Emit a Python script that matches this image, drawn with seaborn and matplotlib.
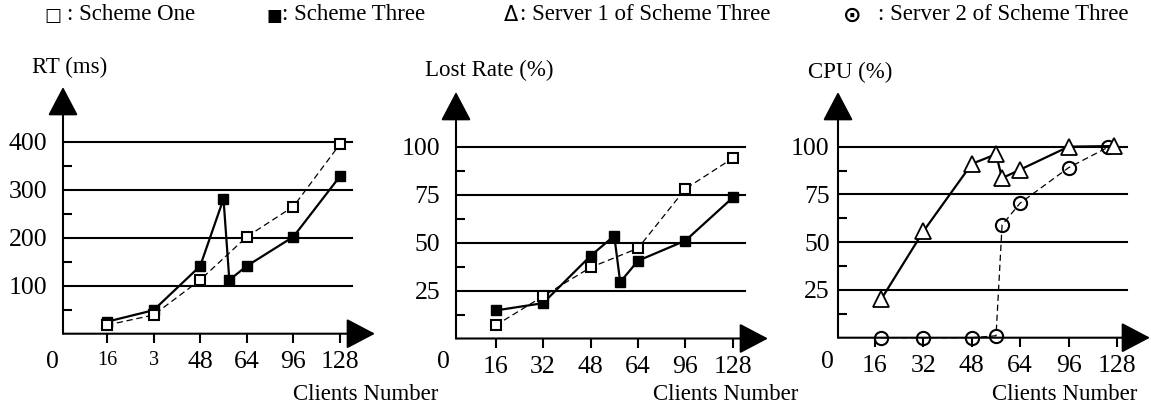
import numpy as np
import matplotlib
matplotlib.use("Agg")
import matplotlib.pyplot as plt
from matplotlib.ticker import NullLocator
import seaborn as sns

# ---------------- data ----------------
clients_rt_one = [16, 32, 48, 64, 96, 128]
rt_one = [18, 39, 112, 202, 265, 395]
clients_rt_three = [16, 32, 48, 56, 58, 64, 96, 128]
rt_three = [25, 49, 141, 281, 112, 141, 202, 328]

clients_lost_one = [16, 32, 48, 64, 96, 128]
lost_one = [6.8, 22, 37, 47, 78, 94]
clients_lost_three = [16, 32, 48, 56, 58, 64, 96, 128]
lost_three = [14.6, 18.4, 43, 53.5, 29.4, 40.5, 51, 73.5]

clients_cpu_s1 = [18, 32, 48, 56, 58, 64, 96, 126]
cpu_s1 = [20, 55.7, 91, 96, 83.5, 88, 100, 100.3]
clients_cpu_s2 = [18, 32, 48, 56, 58, 64, 96, 122]
cpu_s2 = [0, 0, 0, 1, 59, 70.5, 89, 99.7]

x_ticks = [16, 32, 48, 64, 96, 128]
x_labels_rt = ["16", "3", "48", "64", "96", "128"]
x_labels = ["16", "32", "48", "64", "96", "128"]
rt_grid = [100, 200, 300, 400]
pct_grid = [25, 50, 75, 100]

legend_items = ["Scheme One", "Scheme Three", "Server 1 of Scheme Three",
                "Server 2 of Scheme Three"]
titles = ["RT (ms)", "Lost Rate (%)", "CPU (%)"]
xlabel = "Clients Number"

# ---------------- style ----------------
plt.rcParams["font.family"] = ["Liberation Serif", "DejaVu Serif"]
plt.rcParams["axes.unicode_minus"] = False

W, H = 1151, 409
DPI = 100
fig = plt.figure(figsize=(W / DPI, H / DPI), dpi=DPI)
fig.patch.set_facecolor("white")

# evenly spaced category slots for the client counts
BREAKS = [-16, 0, 16, 32, 48, 64, 96, 128, 160]
SLOTS = [-1, 0, 1, 2, 3, 4, 5, 6, 7]


def fwd(x):
    return np.interp(x, BREAKS, SLOTS)


def inv(p):
    return np.interp(p, SLOTS, BREAKS)


def fx(px):
    return px / W


def fy(py):
    return 1 - py / H


def make_axes(L, R, T, B):
    return fig.add_axes([L / W, 1 - B / H, (R - L) / W, (B - T) / H])


LW_AX = 1.5
TICK_FS = 18.5


def decorate(ax, p0, p1, ytop, grid, minor, xt_labels, ypad):
    ax.set_xscale("function", functions=(fwd, inv))
    ax.set_xlim(inv(p0), inv(p1))
    ax.set_ylim(0, ytop)
    for s in ax.spines.values():
        s.set_visible(False)
    ax.set_facecolor("none")
    ax.set_xlabel("")
    ax.set_ylabel("")
    # axes arrows
    kw = dict(arrowstyle="-|>,head_length=0.95,head_width=0.5", lw=LW_AX,
              color="black", shrinkA=0, shrinkB=0, mutation_scale=19)
    ax.annotate("", xy=(1, 0), xytext=(0, 0), xycoords="axes fraction",
                arrowprops=kw, annotation_clip=False)
    ax.annotate("", xy=(0, 1), xytext=(0, 0), xycoords="axes fraction",
                arrowprops=kw, annotation_clip=False)
    for g in grid:
        ax.axhline(g, xmin=0, xmax=0.925, color="black", lw=LW_AX, zorder=1)
    ax.set_yticks(grid)
    ax.set_yticklabels([str(g) for g in grid])
    ax.set_yticks(minor, minor=True)
    ax.tick_params(axis="y", which="major", length=0, pad=ypad,
                   labelsize=TICK_FS)
    ax.tick_params(axis="y", which="minor", direction="in", length=6.5,
                   width=LW_AX)
    ax.set_xticks(x_ticks)
    ax.set_xticklabels(xt_labels)
    ax.xaxis.set_minor_locator(NullLocator())
    ax.tick_params(axis="x", which="major", direction="out", length=6.5,
                   width=LW_AX, pad=6, labelsize=TICK_FS)


sq_one = dict(color="black", marker="s", markersize=7, markerfacecolor="white",
              markeredgecolor="black", markeredgewidth=1.5, linestyle=(0, (5, 3)),
              linewidth=0.9, legend=False, sort=False)
sq_three = dict(color="black", marker="s", markersize=7.5, markerfacecolor="black",
                markeredgecolor="black", markeredgewidth=1.0, linestyle="-",
                linewidth=1.6, legend=False, sort=False)

# ---------------- panel 1: RT ----------------
ax1 = make_axes(63, 375, 87, 333.7)
sns.lineplot(x=clients_rt_three, y=rt_three, ax=ax1, zorder=3, clip_on=False, **sq_three)
sns.lineplot(x=clients_rt_one, y=rt_one, ax=ax1, zorder=4, clip_on=False, **sq_one)
decorate(ax1, 0.056, 6.751, 514, rt_grid, [50, 150, 250, 350], x_labels_rt, 11.5)
for lab in ax1.get_xticklabels()[:2]:
    lab.set_fontsize(14.5)

# ---------------- panel 2: Lost rate ----------------
ax2 = make_axes(456, 768, 92, 338.5)
sns.lineplot(x=clients_lost_three, y=lost_three, ax=ax2, zorder=3, clip_on=False, **sq_three)
sns.lineplot(x=clients_lost_one, y=lost_one, ax=ax2, zorder=4, clip_on=False, **sq_one)
decorate(ax2, 0.168, 6.737, 128.4, pct_grid, [12.5, 37.5, 62.5, 87.5], x_labels, 11.5)

# ---------------- panel 3: CPU ----------------
ax3 = make_axes(838, 1150, 92, 337.7)
sns.lineplot(x=clients_cpu_s2, y=cpu_s2, ax=ax3, color="black", marker="o",
             markersize=9.5, markerfacecolor="none", markeredgecolor="black",
             markeredgewidth=1.5, linestyle=(0, (5, 3)), linewidth=0.9,
             legend=False, sort=False, zorder=3, clip_on=False)
sns.lineplot(x=clients_cpu_s1, y=cpu_s1, ax=ax3, color="black", marker="^",
             markersize=11.5, markerfacecolor="white", markeredgecolor="black",
             markeredgewidth=1.3, linestyle="-", linewidth=1.6,
             legend=False, sort=False, zorder=4, clip_on=False)
decorate(ax3, 0.236, 6.68, 128.6, pct_grid, [12.5, 37.5, 62.5, 87.5], x_labels, 6)

# ---------------- texts ----------------
TXT_FS = 16.5
for x0, t, yc in [(32, titles[0], 67), (425, titles[1], 70), (808, titles[2], 72)]:
    fig.text(fx(x0), fy(yc), t, ha="left", va="center", fontsize=TXT_FS)
for x0 in (293, 653, 992):
    fig.text(fx(x0), fy(394), xlabel, ha="left", va="center", fontsize=TXT_FS)
for xc in (52, 443, 827):
    fig.text(fx(xc), fy(362), "0", ha="center", va="center", fontsize=TICK_FS)

# legend row
LEG_Y = 15
sym_font = ["DejaVu Sans"]
fig.text(fx(53), fy(LEG_Y + 1), "\u25a1", ha="center", va="center", fontsize=13,
         family=sym_font, fontweight="bold")
fig.text(fx(67), fy(LEG_Y), ": " + legend_items[0], ha="left", va="center", fontsize=TXT_FS)
fig.text(fx(274), fy(LEG_Y + 1), "\u25a0", ha="center", va="center", fontsize=12,
         family=sym_font)
fig.text(fx(282), fy(LEG_Y), ": " + legend_items[1], ha="left", va="center", fontsize=TXT_FS)
fig.text(fx(511), fy(LEG_Y), "\u0394", ha="center", va="center", fontsize=15,
         family=sym_font)
fig.text(fx(520), fy(LEG_Y), ": " + legend_items[2], ha="left", va="center", fontsize=TXT_FS)
fig.text(fx(852), fy(LEG_Y + 1), "\u2299", ha="center", va="center", fontsize=16,
         family=sym_font, fontweight="bold")
fig.text(fx(878), fy(LEG_Y), ": " + legend_items[3], ha="left", va="center", fontsize=TXT_FS)

fig.savefig("out.png", dpi=DPI, facecolor="white")
